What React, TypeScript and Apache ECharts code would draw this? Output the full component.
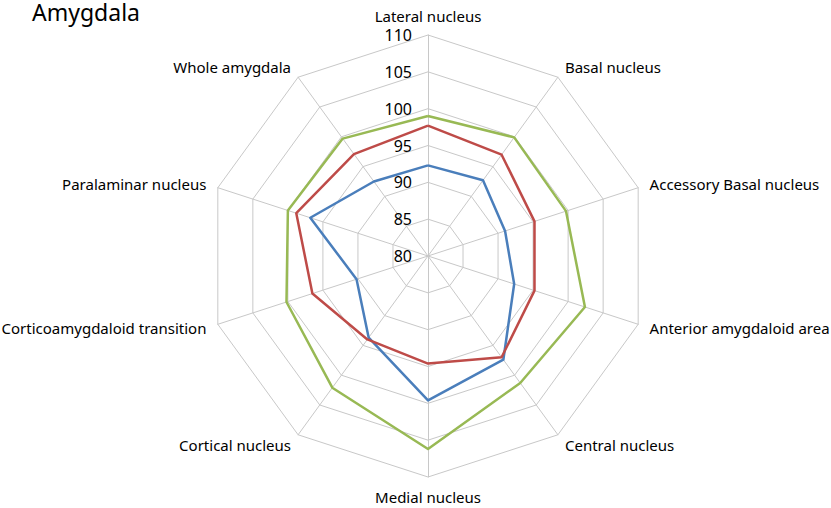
import React, { useEffect, useRef } from "react";
import * as echarts from "echarts";

// Indicators in clockwise order starting at the top
const categories = [
  "Lateral nucleus",
  "Basal nucleus",
  "Accessory Basal nucleus",
  "Anterior amygdaloid area",
  "Central nucleus",
  "Medial nucleus",
  "Cortical nucleus",
  "Corticoamygdaloid transition",
  "Paralaminar nucleus",
  "Whole amygdala",
];
const blueValues = [92.3, 92.7, 91.0, 92.3, 97.4, 99.6, 93.7, 90.2, 96.8, 92.5];
const redValues = [97.7, 97.0, 95.2, 95.2, 97.0, 94.6, 94.0, 96.5, 98.8, 97.1];
const greenValues = [99.0, 99.9, 99.7, 102.4, 101.3, 106.2, 102.1, 100.2, 100.0, 99.7];
const axisMin = 80;
const axisMax = 110;
const splitCount = 6;

// ECharts places radar indicators counter-clockwise; reorder to keep clockwise layout
const order = [0, ...Array.from({ length: categories.length - 1 }, (_, i) => categories.length - 1 - i)];
const reorder = (arr: any[]) => order.map((i) => arr[i]);

export default function App() {
  const ref = useRef<HTMLDivElement>(null);
  useEffect(() => {
    document.body.style.margin = "0";
    const chart = echarts.init(ref.current!, null, { renderer: "svg" });
    const font = "Noto Sans";
    const indicator = reorder(categories).map((name, i) => {
      const ind: any = { name, min: axisMin, max: axisMax };
      if (i === 0) {
        ind.axisLabel = {
          show: true,
          color: "#000",
          fontSize: 16,
          fontFamily: font,
          margin: 16,
        };
      }
      return ind;
    });
    chart.setOption({
      animation: false,
      backgroundColor: "#fff",
      title: {
        text: "Amygdala",
        left: 32,
        top: 0,
        padding: 0,
        textStyle: { fontSize: 23, fontWeight: "normal", color: "#000", fontFamily: font },
      },
      radar: {
        center: [428, 256],
        radius: 221,
        startAngle: 90,
        splitNumber: splitCount,
        shape: "polygon",
        indicator,
        nameGap: 12,
        axisName: { color: "#000", fontSize: 15, fontFamily: font },
        axisLine: { lineStyle: { color: "#c8c8c8", width: 1 } },
        splitLine: { lineStyle: { color: "#c8c8c8", width: 1 } },
        splitArea: { show: false },
        axisTick: { show: false },
        axisLabel: { show: false },
      },
      series: [
        {
          type: "radar",
          symbol: "none",
          data: [
            { name: "Series 1", value: reorder(blueValues), lineStyle: { color: "#4a7ebb", width: 2.5 } },
            { name: "Series 2", value: reorder(redValues), lineStyle: { color: "#be4b48", width: 2.5 } },
            { name: "Series 3", value: reorder(greenValues), lineStyle: { color: "#98b954", width: 2.5 } },
          ],
        },
      ],
    });
    return () => chart.dispose();
  }, []);
  return <div ref={ref} style={{ width: 831, height: 508 }} />;
}
